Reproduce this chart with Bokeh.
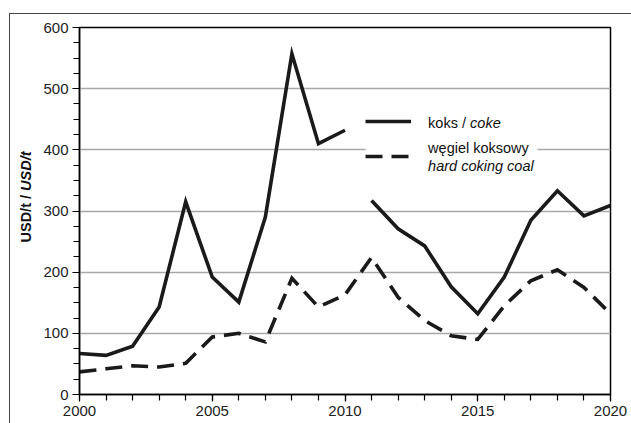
import math
from bokeh.plotting import figure
from bokeh.models import (Range1d, FixedTicker, Label, Legend, LegendItem,
                          BoxAnnotation)
from bokeh.embed import file_html
from bokeh.resources import INLINE

# ---- data ----
years = list(range(2000, 2021))
coke = [67, 64, 79, 143, 315, 192, 151, 290, 557, 410, 432,
        317, 271, 243, 176, 132, 192, 285, 333, 292, 309]
coal = [37, 42, 47, 45, 51, 94, 100, 86, 190, 143, 163,
        224, 159, 121, 96, 90, 145, 186, 204, 175, 132]
coke_break_after = 2010  # coke series has a gap between 2010 and 2011
y_ticks = [0, 100, 200, 300, 400, 500, 600]
x_ticks = [2000, 2005, 2010, 2015, 2020]

FONT = "Liberation Sans"

p = figure(width=631, height=423, output_backend="svg", toolbar_location=None,
           x_range=Range1d(2000, 2020), y_range=Range1d(0, 600),
           min_border_left=79, min_border_right=21, min_border_top=27,
           min_border_bottom=29, background_fill_color="white",
           border_fill_color=None)
# outer frame (top and left rules) drawn as the page background
p.styles = {"background": "linear-gradient(#444,#444) 9px 13px / 640px 1px no-repeat, "
                          "linear-gradient(#444,#444) 9px 13px / 1px 430px no-repeat, "
                          "#ffffff"}

# axes
p.xaxis.ticker = FixedTicker(ticks=x_ticks, minor_ticks=years)
p.yaxis.ticker = FixedTicker(ticks=y_ticks,
                             minor_ticks=list(range(0, 601, 25)))
for ax in (p.xaxis, p.yaxis):
    ax.axis_line_color = "black"
    ax.axis_line_width = 1.5
    ax.major_tick_line_color = "black"
    ax.minor_tick_line_color = "black"
    ax.major_tick_line_width = 1.2
    ax.minor_tick_line_width = 1.2
    ax.major_tick_out = 7
    ax.major_tick_in = 0
    ax.minor_tick_out = 6
    ax.minor_tick_in = 0
    ax.major_label_text_font = FONT
    ax.major_label_text_font_size = "15px"
    ax.major_label_text_color = "#222222"
    ax.major_label_standoff = 4
p.xgrid.grid_line_color = None
p.ygrid.grid_line_color = "#a8a8a8"
p.ygrid.grid_line_width = 1.4
p.outline_line_color = "black"
p.outline_line_width = 1.5
p.outline_line_alpha = 1

# white patch interrupting the gridline behind the legend
p.add_layout(BoxAnnotation(left=2010.78, right=2017.25, top=470, bottom=350,
                           fill_color="white", fill_alpha=1.0,
                           line_color=None, level="underlay"))

# series
i = years.index(coke_break_after) + 1
r_coke = p.multi_line(xs=[years[:i], years[i:]], ys=[coke[:i], coke[i:]],
                      line_color="#1a1a1a", line_width=3.6,
                      line_join="miter", line_cap="butt")
r_coal = p.line(years, coal, line_color="#1a1a1a", line_width=3.6,
                line_dash="17 9", line_join="miter", line_cap="butt")

# legend samples (texts are drawn as labels below)
legend = Legend(items=[LegendItem(label=" ", renderers=[r_coke]),
                       LegendItem(label=" ", renderers=[r_coal])],
                location=(286, 222), glyph_width=46, glyph_height=32,
                label_height=32, spacing=3, padding=9, margin=0,
                label_standoff=8, label_width=20,
                border_line_color=None, background_fill_alpha=0.0,
                label_text_font_size="1px")
p.add_layout(legend)

lab_kw = dict(text_font=FONT, text_font_size="14.5px", text_color="#111111",
              text_baseline="middle", text_align="left")
p.add_layout(Label(x=2013.13, y=443.5, text="koks / ", **lab_kw))
p.add_layout(Label(x=2013.13, y=443.5, x_offset=42, text="coke",
                   text_font_style="italic", **lab_kw))
p.add_layout(Label(x=2013.13, y=402.7, text="węgiel koksowy", **lab_kw))
p.add_layout(Label(x=2013.13, y=373, text="hard coking coal",
                   text_font_style="italic", **lab_kw))

# y axis title (mixed styles), canvas units, placed in the left panel
yl_kw = dict(text_font=FONT, text_font_size="14.5px", text_color="#111111",
             text_baseline="middle", text_align="left", angle=90,
             angle_units="deg", x_units="canvas", y_units="canvas")
p.add_layout(Label(x=25, y=242, text="USD/t / ",
                   text_font_style="bold", **yl_kw), "left")
p.add_layout(Label(x=25, y=190.4, text="USD/t",
                   text_font_style="bold italic", **yl_kw), "left")

open("out.html", "w").write(file_html(p, INLINE))
